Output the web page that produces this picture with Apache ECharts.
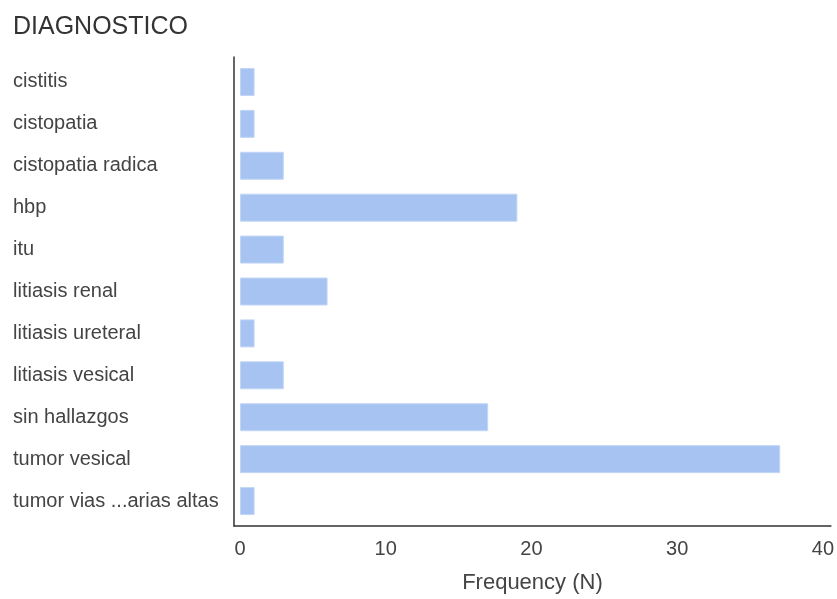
<!DOCTYPE html>
<html>
<head>
<meta charset="utf-8">
<script src="https://cdn.jsdelivr.net/npm/echarts@6/dist/echarts.min.js"></script>
<style>html,body{margin:0;padding:0;background:#fff;}#c{width:837px;height:599px;}</style>
</head>
<body>
<div id="c"></div>
<script>
const categories = ["cistitis","cistopatia","cistopatia radica","hbp","itu","litiasis renal","litiasis ureteral","litiasis vesical","sin hallazgos","tumor vesical","tumor vias ...arias altas"];
const frequency = [1,1,3,19,3,6,1,3,17,37,1];
const xTicks = [0,10,20,30,40];

const chart = echarts.init(document.getElementById('c'), null, {renderer:'canvas'});
const font = '"Liberation Sans", Arial, sans-serif';
const xMin = -0.41, xMax = 40.55;
chart.setOption({
  animation: false,
  title: {
    text: 'DIAGNOSTICO', left: 8, top: 10,
    textStyle: {fontFamily: font, fontSize: 25, fontWeight: 'normal', color: '#333'}
  },
  grid: [
    {left: 234, right: 5, top: 57, bottom: 73, containLabel: false},
    {left: 234, right: 5, top: 61, bottom: 77, containLabel: false}
  ],
  xAxis: [{
    gridIndex: 0, type: 'value', min: xMin, max: xMax,
    name: 'Frequency (N)', nameLocation: 'middle', nameGap: 46,
    nameTextStyle: {fontFamily: font, fontSize: 22, color: '#444'},
    axisLine: {show: true, lineStyle: {color: '#333', width: 1.5}},
    axisTick: {show: false},
    splitLine: {show: false},
    axisLabel: {
      fontFamily: font, fontSize: 20, color: '#444', margin: 13,
      showMinLabel: false, showMaxLabel: false,
      formatter: function (v) { return xTicks.indexOf(v) >= 0 ? String(v) : ''; }
    }
  }, {
    gridIndex: 1, type: 'value', min: xMin, max: xMax, show: false
  }],
  yAxis: [{
    gridIndex: 0, type: 'value', min: 0, max: 1,
    axisLine: {show: true, onZero: false, lineStyle: {color: '#333', width: 1.5}},
    axisTick: {show: false}, axisLabel: {show: false}, splitLine: {show: false}
  }, {
    gridIndex: 1, type: 'category', data: categories, inverse: true,
    axisLine: {show: false, onZero: false},
    axisTick: {show: false},
    axisLabel: {fontFamily: font, fontSize: 20, color: '#444', align: 'left', margin: 221}
  }],
  series: [{
    type: 'bar', xAxisIndex: 1, yAxisIndex: 1, data: frequency, barWidth: 28,
    itemStyle: {color: '#a6c3f2', borderColor: '#c3d6f6', borderWidth: 1}
  }]
});
</script>
</body>
</html>
